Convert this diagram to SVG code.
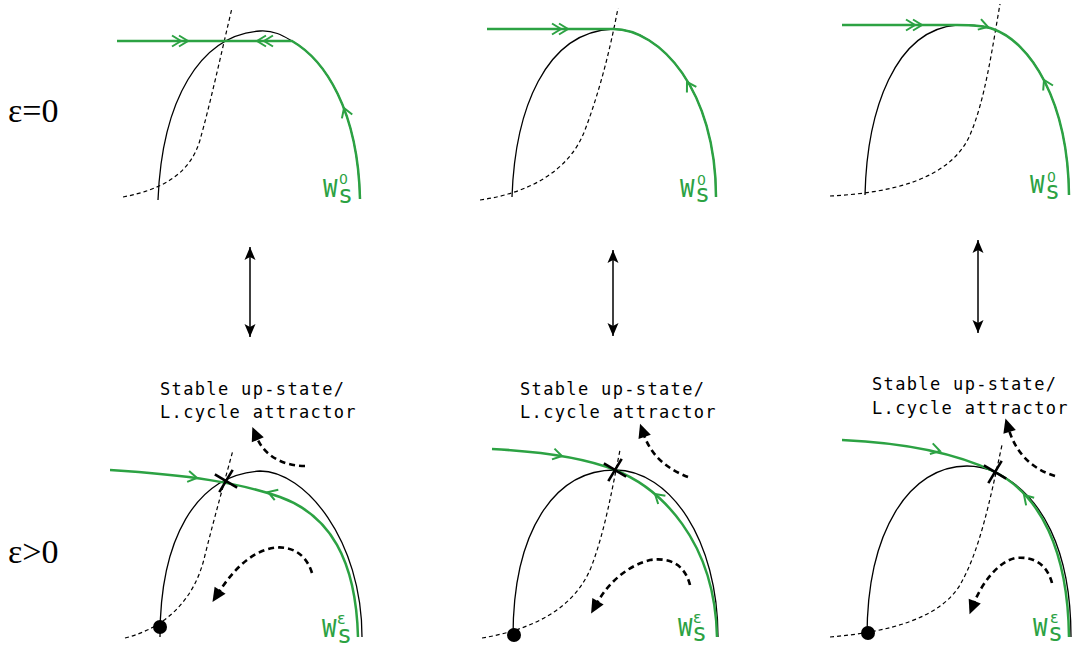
<svg xmlns="http://www.w3.org/2000/svg" xmlns:xlink="http://www.w3.org/1999/xlink" width="1073" height="648" viewBox="0 0 1073 648">
<style>
.g{fill:none;stroke:#2ca243;stroke-width:2.5}
.k{fill:none;stroke:#000;stroke-width:1.3}
.d{fill:none;stroke:#000;stroke-width:1.2;stroke-dasharray:4 3}
.ch{fill:none;stroke:#2ca243;stroke-width:2}
.tk{fill:none;stroke:#000;stroke-width:2.6;stroke-dasharray:6 4}
.x{fill:none;stroke:#000;stroke-width:2.6}
.va{fill:none;stroke:#000;stroke-width:1.5}
.eps{font-family:"Liberation Serif",serif;font-size:34px;fill:#000}
.txt{font-family:"DejaVu Sans Mono",monospace;font-size:17px;letter-spacing:1.35px;fill:#000}
.lab{fill:#2ca243}
.W{font-family:"DejaVu Sans Mono",monospace;font-size:24px}
.sup{font-family:"DejaVu Sans",sans-serif;font-size:14px}
.supe{font-family:"DejaVu Sans",sans-serif;font-size:16px}
.sub{font-family:"DejaVu Sans Mono",monospace;font-size:25px}
</style>
<defs>
<path id="ch" d="M-9,-5.5 L0,0 L-9,5.5"/>
<path id="ch2" d="M-16,-5.5 L-7,0 L-16,5.5 M-9,-5.5 L0,0 L-9,5.5"/>
<path id="xm" d="M-13,0 H13 M0,-13 V13"/>
<marker id="ah" viewBox="-14 -7 15 14" refX="0" refY="0" markerWidth="15" markerHeight="14" markerUnits="userSpaceOnUse" orient="auto-start-reverse">
<path d="M0,0 L-13,-5.5 L-10,0 L-13,5.5 Z" fill="#000"/>
</marker>
<marker id="ad" viewBox="-1 -8 17 16" refX="2" refY="0" markerWidth="17" markerHeight="16" markerUnits="userSpaceOnUse" orient="auto">
<path d="M0,-6.5 L14,0 L0,6.5 Z" fill="#000"/>
</marker>
</defs>

<text class="eps" x="8" y="122">ε=0</text>
<text class="eps" x="8" y="563">ε&gt;0</text>

<g id="top1">
<path class="d" d="M123,197 C160,190 190,175 200,140 C210,105 222,50 232,8"/>
<path class="k" d="M158,200 C162,100 200,35 260,31 C275,30 285,37 292,41 C325,60 358,110 360,199"/>
<path class="g" d="M117,41 H292 C325,60 358,110 360,199"/>
<use href="#ch2" class="ch" transform="translate(188,41)"/>
<use href="#ch2" class="ch" transform="translate(257,41) rotate(180)"/>
<use href="#ch" class="ch" transform="translate(344,108) rotate(-110)"/>
<text class="lab"><tspan class="W" x="323" y="197">W</tspan><tspan class="sup" x="339" y="184">0</tspan><tspan class="sub" x="338" y="203">s</tspan></text>
</g>

<g id="top2">
<path class="d" d="M480,200 C530,193 570,170 585,130 C600,90 610,50 618,8"/>
<path class="k" d="M512,197 C515,110 545,32 613,29 C660,29 716,90 716,197"/>
<path class="g" d="M487,29 H613 C660,29 716,90 716,197"/>
<use href="#ch2" class="ch" transform="translate(568,29)"/>
<use href="#ch" class="ch" transform="translate(687,82) rotate(-121)"/>
<text class="lab"><tspan class="W" x="680" y="197">W</tspan><tspan class="sup" x="697" y="185">0</tspan><tspan class="sub" x="695" y="202">s</tspan></text>
</g>

<g id="top3">
<path class="d" d="M830,196 C890,193 950,180 970,135 C985,100 992,50 1000,4"/>
<path class="k" d="M865,195 C867,110 895,30 957,25 C975,25 985,26 993,29 C1030,42 1068,100 1069,195"/>
<path class="g" d="M842,25 H957 C975,25 985,26 993,29 C1030,42 1068,100 1069,195"/>
<use href="#ch2" class="ch" transform="translate(922,25)"/>
<use href="#ch" class="ch" transform="translate(988,27) rotate(17)"/>
<use href="#ch" class="ch" transform="translate(1044,80) rotate(-117)"/>
<text class="lab"><tspan class="W" x="1030" y="193">W</tspan><tspan class="sup" x="1047" y="182">0</tspan><tspan class="sub" x="1045" y="199">s</tspan></text>
</g>

<g id="bot1">
<text class="txt" x="160" y="395">Stable up-state/</text>
<text class="txt" x="160" y="418">L.cycle attractor</text>
<path class="d" d="M125,638 C165,628 195,600 205,555 C215,515 225,480 233,450"/>
<path class="k" d="M160,637 C160,540 195,475 260,471 C305,471 362,540 362,637"/>
<path class="g" d="M110,470 C190,475 240,483 280,497 C330,515 356,560 358,637"/>
<use href="#ch" class="ch" transform="translate(197,478) rotate(10)"/>
<use href="#ch" class="ch" transform="translate(268,492) rotate(-161)"/>
<use href="#xm" class="x" transform="translate(226,481) rotate(31)"/>
<circle cx="160" cy="627" r="7" fill="#000"/>
<text class="lab"><tspan class="W" x="322" y="637">W</tspan><tspan class="supe" x="337" y="624">ε</tspan><tspan class="sub" x="337" y="643">s</tspan></text>
</g>

<g id="bot2">
<text class="txt" x="520" y="395">Stable up-state/</text>
<text class="txt" x="520" y="418">L.cycle attractor</text>
<path class="d" d="M482,638 C530,630 575,610 592,565 C605,530 612,490 620,450"/>
<path class="k" d="M513,637 C513,530 555,470 615,470 C670,470 718,540 718,637"/>
<path class="g" d="M492,449 C550,452 590,460 615,470 C660,488 715,540 717,637"/>
<use href="#ch" class="ch" transform="translate(562,456) rotate(13)"/>
<use href="#ch" class="ch" transform="translate(655,494) rotate(-139)"/>
<use href="#xm" class="x" transform="translate(615,470) rotate(31)"/>
<circle cx="514" cy="635" r="7" fill="#000"/>
<text class="lab"><tspan class="W" x="678" y="636">W</tspan><tspan class="supe" x="693" y="623">ε</tspan><tspan class="sub" x="692" y="641">s</tspan></text>
</g>

<g id="bot3">
<text class="txt" x="872" y="390">Stable up-state/</text>
<text class="txt" x="872" y="414">L.cycle attractor</text>
<path class="d" d="M830,637 C890,632 940,618 960,585 C980,550 990,500 1002,445"/>
<path class="k" d="M867,637 C867,530 910,466 967,466 C978,466 988,469 995,472 C1042,494 1071,550 1071,637"/>
<path class="g" d="M842,440 C910,443 960,455 995,472 C1040,495 1068,550 1069,637"/>
<use href="#ch" class="ch" transform="translate(940,451) rotate(15)"/>
<use href="#ch" class="ch" transform="translate(1024,495) rotate(-133)"/>
<use href="#xm" class="x" transform="translate(995,472) rotate(31)"/>
<circle cx="868" cy="633" r="7" fill="#000"/>
<text class="lab"><tspan class="W" x="1033" y="636">W</tspan><tspan class="supe" x="1050" y="623">ε</tspan><tspan class="sub" x="1048" y="641">s</tspan></text>
</g>

<g id="connectors">
<line class="va" x1="250" y1="247" x2="250" y2="337" marker-start="url(#ah)" marker-end="url(#ah)"/>
<line class="va" x1="613" y1="250" x2="613" y2="336" marker-start="url(#ah)" marker-end="url(#ah)"/>
<line class="va" x1="978" y1="240" x2="978" y2="333" marker-start="url(#ah)" marker-end="url(#ah)"/>
<path class="tk" d="M305,466 C285,466 265,457 257,438" marker-end="url(#ad)"/>
<path class="tk" d="M312,573 C305,550 285,543 265,550 C245,557 230,575 219,592" marker-end="url(#ad)"/>
<path class="tk" d="M688,477 C670,470 652,458 644,435" marker-end="url(#ad)"/>
<path class="tk" d="M690,585 C685,565 670,557 650,560 C630,565 610,580 597,603" marker-end="url(#ad)"/>
<path class="tk" d="M1055,476 C1035,470 1017,456 1009,430" marker-end="url(#ad)"/>
<path class="tk" d="M1052,583 C1047,565 1035,556 1015,558 C998,562 982,583 974,603" marker-end="url(#ad)"/>
</g>
</svg>
